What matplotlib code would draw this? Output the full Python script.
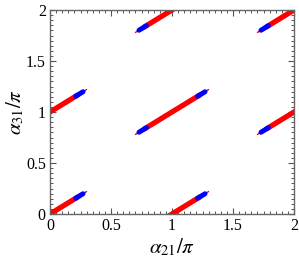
import numpy as np
import matplotlib.pyplot as plt
from matplotlib.ticker import MultipleLocator

plt.rcParams['font.family'] = ['Liberation Serif', 'DejaVu Serif']
plt.rcParams['mathtext.fontset'] = 'stix'

# band centres (alpha21/pi, alpha31/pi) -- the bands repeat on the integer lattice
centre_x = [0, 1, 2, 1, 2, 0, 1]
centre_y = [0, 1, 2, 0, 1, 1, 2]
# half extent of each red band along its direction
half_dx = 0.30
half_dy = 0.22
# blue parts sit near both ends of each band (fraction of the half extent)
blue_from = 0.70
blue_to = 0.90

ticks = [0, 0.5, 1, 1.5, 2]
tick_labels = ['0', '0.5', '1', '1.5', '2']

fig = plt.figure(figsize=(2.99, 2.64), dpi=100)
ax = fig.add_axes([50/299, 50/264, 244/299, 204/264])

for cx, cy in zip(centre_x, centre_y):
	# red band, layered to get the tapering tips
	for frac, lw in [(1.0, 1.0), (0.92, 2.4), (0.75, 3.8)]:
		ax.plot([cx - frac*half_dx, cx + frac*half_dx],
				[cy - frac*half_dy, cy + frac*half_dy],
				color='#ff0000', lw=lw, solid_capstyle='round')
	for s in (-1, 1):
		ax.plot([cx + s*blue_from*half_dx, cx + s*blue_to*half_dx],
				[cy + s*blue_from*half_dy, cy + s*blue_to*half_dy],
				color='#0000ff', lw=3.6, solid_capstyle='round')

ax.set_xlim(0, 2)
ax.set_ylim(0, 2)
ax.set_xticks(ticks)
ax.set_xticklabels(tick_labels)
ax.set_yticks(ticks)
ax.set_yticklabels(tick_labels)
ax.xaxis.set_minor_locator(MultipleLocator(0.05))
ax.yaxis.set_minor_locator(MultipleLocator(0.05))
ax.tick_params(which='both', direction='in', top=True, right=True,
			   color='#555555', labelsize=11.5, pad=3)
ax.tick_params(which='major', length=4.5, width=0.8)
ax.tick_params(which='minor', length=2.5, width=0.7)
for sp in ax.spines.values():
	sp.set_color('#666666')
	sp.set_linewidth(1.0)

ax.set_xlabel(r'$\alpha_{21}/\pi$', fontsize=15, labelpad=2)
ax.set_ylabel(r'$\alpha_{31}/\pi$', fontsize=15, labelpad=0)

fig.savefig('out.png', dpi=100)
